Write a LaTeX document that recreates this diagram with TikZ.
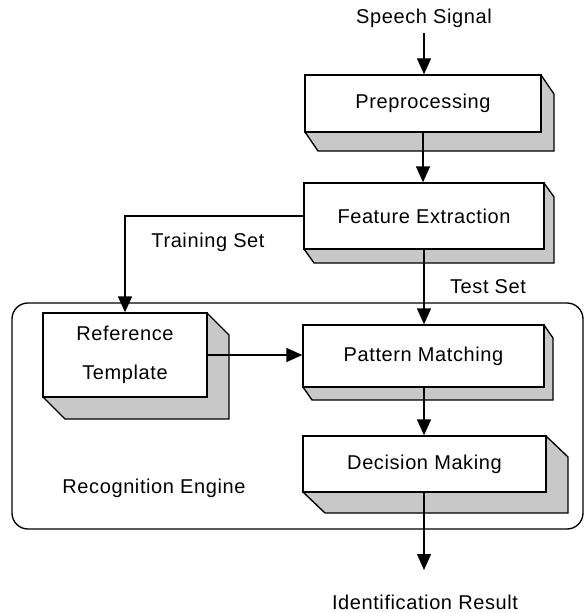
\documentclass[tikz,border=0pt]{standalone}
\usepackage{fontspec}
\setmainfont{Liberation Sans}[LetterSpace=3]
\usetikzlibrary{arrows.meta,fit}

\definecolor{boxshade}{RGB}{200,200,200}

\tikzset{
  edge/.style={line width=1pt, draw=black},
  face/.style={edge, fill=white, inner sep=0pt},
  boxlabel/.style={inner sep=0pt, align=center,
                   font=\fontsize{15}{29}\selectfont},
  flow/.style={edge, -{Triangle[width=10.5pt,length=12pt]}},
  plain/.style={inner sep=0pt, font=\fontsize{15}{18}\selectfont},
  frame/.style={edge, rounded corners=12pt, inner sep=0pt}
}

% extruded box: name, left, top, right, bottom, depth x, depth y, text
\newcommand\solidbox[8]{%
  \draw[edge, fill=boxshade, line join=miter]
    (#4,#3) -- (#4+#6,#3+#7) -- (#4+#6,#5+#7) -- (#2+#6,#5+#7) -- (#2,#5) -- cycle;
  \node[face, fit={(#2,#3) (#4,#5)}] (#1) {};
  \node[boxlabel] (#1-label) at (#1.center) {#8};
}

\begin{document}
\begin{tikzpicture}[x=0.75pt, y=-0.75pt]
  \fill[white] (0,0) rectangle (588,613);
  \useasboundingbox (0,0) rectangle (588,613);

  % recognition engine frame
  \node[frame, fit={(12,303) (583,529)}] (engine) {};

  % processing stages
  \solidbox{pre}{305}{75}{541}{132}{13}{19}{Preprocessing}
  \solidbox{fe}{304}{183}{544}{249}{10}{14}{Feature Extraction}
  \solidbox{rt}{43}{313}{207}{397}{22}{22}{Reference\\Template}
  \solidbox{pm}{303}{325}{544}{387}{9}{13}{Pattern Matching}
  \solidbox{dm}{303}{436}{546}{492}{22}{21}{Decision Making}

  % free labels
  \node[plain] (sig) at (424,18) {Speech Signal};
  \node[plain] (train) at (208,242) {Training Set};
  \node[plain] (test) at (488,287) {Test Set};
  \node[plain] (eng) at (154,488) {Recognition Engine};
  \node[plain] (res) at (425,602) {Identification Result};
  \coordinate (resin) at (424,570);

  % connectors
  \draw[flow] ([yshift=-4pt]sig.south) -- (sig.south |- pre.north);
  \draw[flow] (pre.south) -- (pre.south |- fe.north);
  \draw[flow] (fe.west) -| (rt.north);
  \draw[flow] (fe.south) -- (fe.south |- pm.north);
  \draw[flow] (rt.east) -- (rt.east -| pm.west);
  \draw[flow] (fe.south |- pm.south) -- (fe.south |- dm.north);
  \draw[flow] (fe.south |- dm.south) -- (resin);
\end{tikzpicture}
\end{document}
